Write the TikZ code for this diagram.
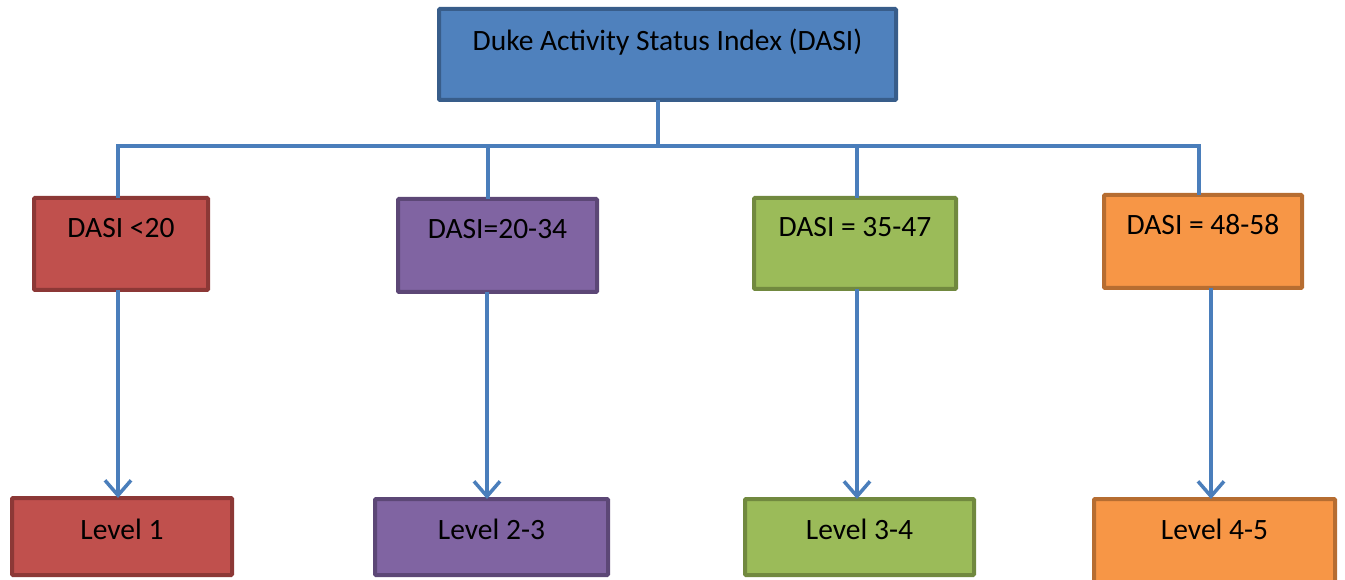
\documentclass[tikz,border=0pt]{standalone}
\usepackage{fontspec}
\setmainfont{Carlito}
\usetikzlibrary{arrows.meta}

% Office-style palette: fills and their darker outlines
\definecolor{blueFill}{HTML}{4F81BD}\definecolor{blueLine}{HTML}{385D8A}
\definecolor{redFill}{HTML}{C0504D}\definecolor{redLine}{HTML}{8C3836}
\definecolor{purpleFill}{HTML}{8064A2}\definecolor{purpleLine}{HTML}{5C4776}
\definecolor{greenFill}{HTML}{9BBB59}\definecolor{greenLine}{HTML}{71893F}
\definecolor{orangeFill}{HTML}{F79646}\definecolor{orangeLine}{HTML}{B66D31}
\definecolor{wire}{HTML}{4A7EBB}

\tikzset{
  box/.style 2 args={draw=#2, fill=#1, line width=4pt, rounded corners=1pt,
    inner sep=0pt, outer sep=0pt, align=center,
    font=\fontsize{29.5}{34}\selectfont},
  wireline/.style={draw=wire, line width=3.5pt},
  wirearrow/.style={wireline, -{Straight Barb[length=15pt,width=26pt,line width=3.5pt]}},
}

\begin{document}
\begin{tikzpicture}[x=1pt, y=-1pt]
\useasboundingbox (0,0) rectangle (1345,580);

% root
\node[box={blueFill}{blueLine}, minimum width=457pt, text height=41.5pt, text depth=49.5pt]
  (root) at (667.5,54.5) {Duke Activity Status Index (DASI)};

% score bands
\node[box={redFill}{redLine}, minimum width=174pt, text height=40pt, text depth=52pt]
  (b1) at (121,244) {DASI <20};
\node[box={purpleFill}{purpleLine}, minimum width=199pt, text height=39.5pt, text depth=53.5pt]
  (b2) at (497.5,245.5) {DASI=20-34};
\node[box={greenFill}{greenLine}, minimum width=202pt, text height=38.5pt, text depth=52.5pt]
  (b3) at (855,243.5) {DASI = 35-47};
\node[box={orangeFill}{orangeLine}, minimum width=198pt, text height=40pt, text depth=53pt]
  (b4) at (1203,241.5) {DASI = 48-58};

% levels
\node[box={redFill}{redLine}, minimum width=220pt, text height=41pt, text depth=36pt]
  (l1) at (122,536.5) {Level 1};
\node[box={purpleFill}{purpleLine}, minimum width=233pt, text height=40pt, text depth=36pt]
  (l2) at (491.5,537) {Level 2-3};
\node[box={greenFill}{greenLine}, minimum width=229pt, text height=40pt, text depth=36pt]
  (l3) at (859.5,537) {Level 3-4};
\node[box={orangeFill}{orangeLine}, minimum width=241pt, text height=40pt, text depth=46pt]
  (l4) at (1214.5,542) {Level 4-5};

% branching bar
\coordinate (stem) at (658,146);
\coordinate (t1) at (118,146);
\coordinate (t2) at (488,146);
\coordinate (t3) at (857,146);
\coordinate (t4) at (1199,146);

\draw[wireline] (root.south -| stem) -- (stem);
\draw[wireline] (b1.north -| t1) -- (t1) -- (t4) -- (b4.north -| t4);
\draw[wireline] (t2) -- (b2.north -| t2);
\draw[wireline] (t3) -- (b3.north -| t3);

% band to level arrows
\coordinate (d1) at (118,0);
\coordinate (d2) at (487,0);
\coordinate (d3) at (857,0);
\coordinate (d4) at (1211,0);
\draw[wirearrow] (b1.south -| d1) -- (l1.north -| d1);
\draw[wirearrow] (b2.south -| d2) -- (l2.north -| d2);
\draw[wirearrow] (b3.south -| d3) -- (l3.north -| d3);
\draw[wirearrow] (b4.south -| d4) -- (l4.north -| d4);
\end{tikzpicture}
\end{document}
